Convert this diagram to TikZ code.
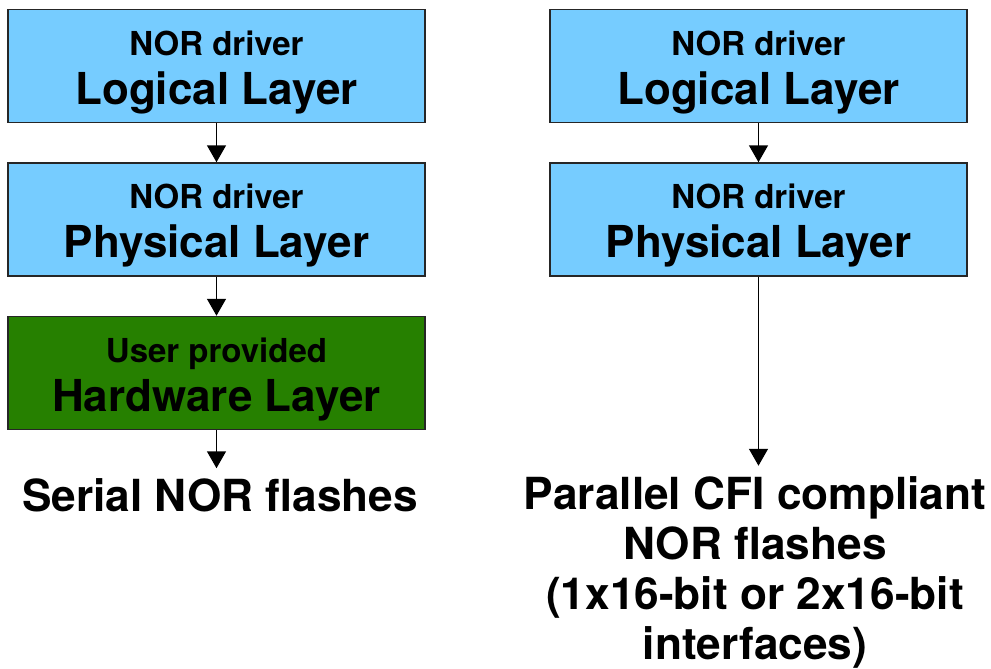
\documentclass[tikz,border=0pt]{standalone}
\usepackage{fontspec}
\setmainfont{TeX Gyre Heros}
\usepackage{xcolor}
\usepackage{tikz}
\usetikzlibrary{arrows.meta}
\usetikzlibrary{positioning}
\definecolor{norblue}{RGB}{118,204,255}
\definecolor{hwgreen}{RGB}{38,128,0}
\newcommand{\layertext}[2]{\rule{0pt}{37pt}#1\\{\fontsize{44}{49}\selectfont #2}}
\begin{document}
\begin{tikzpicture}[->,>={Triangle[width=19pt,length=17pt]},line width=1.5pt,
                    x=1pt,y=1pt,font=\bfseries]
  \tikzstyle{layer}=[draw=black!85, fill=norblue, minimum width=417pt, minimum height=113pt,
                     align=center, inner sep=0pt, font=\bfseries\fontsize{33}{49}\selectfont]
  \tikzstyle{hwlayer}=[layer, fill=hwgreen]
  \tikzstyle{flash}=[align=center, inner sep=10pt, font=\bfseries\fontsize{44.2}{50}\selectfont]
  \useasboundingbox (0,0) rectangle (991,-669);
  % serial side
  \node[layer] (logL) at (216.5,-66) {\layertext{NOR driver}{Logical Layer}};
  \node[layer] (physL) [below=39pt of logL] {\layertext{NOR driver}{Physical Layer}};
  \node[hwlayer] (hwL) [below=39pt of physL] {\layertext{User provided}{Hardware Layer}};
  \node[flash] (serial) [below=38pt of hwL, xshift=3.5pt] {Serial NOR flashes};
  % parallel side
  \node[layer] (logR) at (758.5,-66) {\layertext{NOR driver}{Logical Layer}};
  \node[layer] (physR) [below=39pt of logR] {\layertext{NOR driver}{Physical Layer}};
  \node[flash] (parallel) [below=189pt of physR, xshift=-3.5pt] {Parallel CFI compliant\\NOR flashes\\(1x16-bit or 2x16-bit\\interfaces)};
  \path (logL) edge (physL)
        (physL) edge (hwL)
        (hwL) edge (serial.north -| hwL)
        (logR) edge (physR)
        (physR) edge (parallel.north -| physR);
\end{tikzpicture}
\end{document}
